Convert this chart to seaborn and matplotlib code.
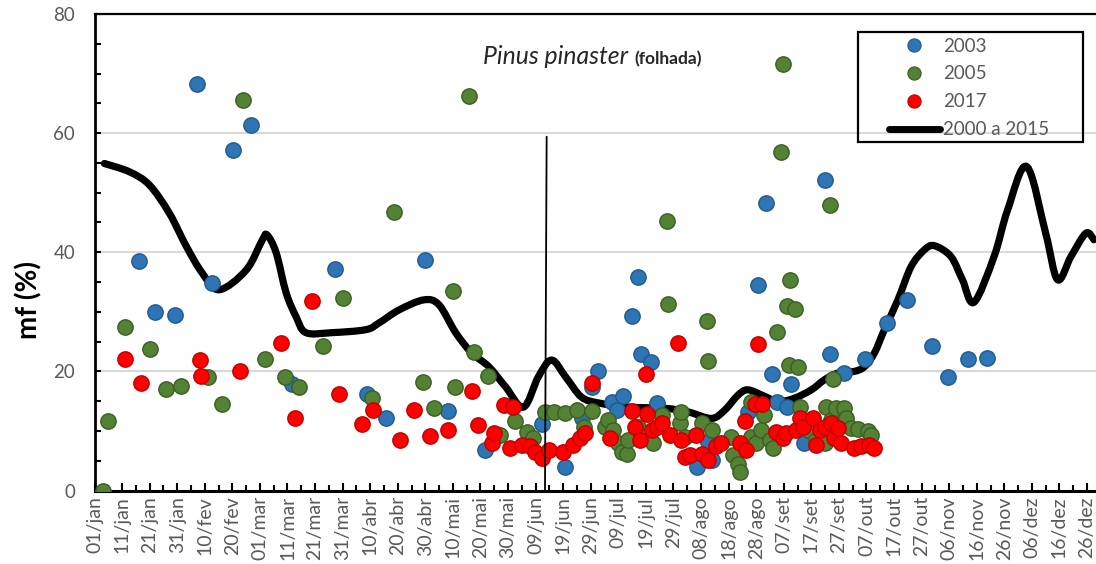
import numpy as np
import pandas as pd
import matplotlib
matplotlib.use("Agg")
import matplotlib.pyplot as plt
import seaborn as sns
from matplotlib.path import Path
from matplotlib.patches import PathPatch, Rectangle
from matplotlib.lines import Line2D
from matplotlib.ticker import FixedLocator, MultipleLocator
from matplotlib.transforms import offset_copy

# ---------------- data (day of year, mf %) ----------------
dia_2003 = [17.0, 23.1, 30.2, 38.0, 43.8, 51.3, 57.9, 72.8, 88.1, 99.9, 106.9, 120.8,
            129.1, 142.8, 163.3, 171.7, 177.7, 181.4, 183.8, 188.6, 190.4, 192.8, 196.1,
            198.0, 199.4, 203.0, 204.9, 219.5, 223.6, 224.8, 238.0, 241.7, 244.7, 246.6,
            248.6, 252.0, 253.6, 258.5, 265.8, 267.8, 273.0, 280.3, 288.6, 295.6, 304.6,
            310.7, 317.7, 324.7]
mf_2003 = [38.5, 30.0, 29.5, 68.3, 34.8, 57.1, 61.4, 17.8, 37.2, 16.2, 12.1, 38.7,
           13.4, 6.8, 11.1, 4.0, 12.1, 17.4, 20.0, 14.9, 13.5, 15.8, 29.3,
           35.9, 22.9, 21.6, 14.7, 4.0, 8.2, 5.1, 13.2, 34.5, 48.3, 19.5,
           14.8, 14.1, 17.9, 8.0, 52.2, 22.9, 19.7, 22.0, 28.1, 32.0, 24.2,
           19.1, 22.1, 22.3]

dia_2005 = [4.0, 5.8, 12.2, 21.3, 26.9, 32.4, 42.3, 47.1, 55.0, 62.8, 70.1, 75.2,
            84.0, 91.2, 101.6, 109.8, 120.0, 124.0, 131.0, 131.8, 136.7, 138.7, 143.6,
            148.2, 153.6, 157.8, 160.0, 164.5, 167.5, 171.7, 175.9, 178.7, 181.5, 186.2,
            187.4, 189.2, 191.0, 192.2, 194.0, 194.6, 198.2, 199.4, 203.7, 206.7, 208.5,
            209.1, 213.3, 213.9, 215.1, 221.2, 223.0, 223.6, 224.8, 232.0, 232.6, 234.4,
            235.3, 239.2, 239.2, 241.0, 242.6, 244.0, 245.9, 247.1, 248.6, 249.9, 250.7,
            252.0, 252.8, 253.4, 255.2, 256.0, 256.8, 259.8, 262.8, 265.8, 266.4, 267.8,
            268.2, 268.7, 270.0, 273.0, 273.6, 275.4, 277.9, 281.5, 282.7]
mf_2005 = [0.0, 11.7, 27.5, 23.7, 17.1, 17.5, 19.0, 14.5, 65.6, 22.1, 19.0, 17.3,
           24.2, 32.3, 15.5, 46.7, 18.2, 13.9, 33.5, 17.3, 66.2, 23.3, 19.2,
           9.3, 11.7, 9.8, 8.8, 13.2, 13.2, 13.0, 13.5, 10.7, 13.4, 10.7,
           11.8, 10.2, 7.9, 6.5, 6.2, 8.5, 10.7, 9.0, 7.9, 12.7, 45.3,
           31.3, 11.3, 13.2, 9.0, 11.3, 28.4, 21.7, 10.2, 9.0, 6.0, 4.5,
           3.1, 14.9, 9.0, 7.9, 10.2, 12.6, 8.5, 7.2, 26.6, 56.9, 71.6,
           30.9, 21.1, 35.3, 30.5, 20.7, 14.1, 10.2, 8.5, 7.9, 14.0, 48.0,
           11.8, 18.8, 13.8, 13.8, 12.1, 10.5, 10.3, 10.0, 9.3]

dia_2017 = [12.2, 17.9, 39.4, 39.8, 53.8, 68.8, 73.7, 80.0, 89.7, 98.0, 102.0, 111.7,
            116.8, 122.8, 129.1, 137.9, 140.0, 145.0, 145.8, 149.4, 151.8, 152.7, 156.0,
            159.0, 160.8, 163.2, 165.7, 171.1, 174.7, 177.1, 178.9, 181.6, 187.8, 195.8,
            197.0, 198.8, 200.9, 201.3, 203.1, 204.9, 206.7, 209.7, 212.7, 213.9, 215.1,
            216.9, 219.3, 221.2, 223.6, 226.3, 228.4, 235.0, 236.8, 237.4, 240.4, 241.7,
            243.2, 248.3, 250.7, 251.9, 255.5, 256.8, 258.0, 261.6, 262.8, 264.0, 265.8,
            268.2, 269.4, 270.6, 271.8, 276.6, 279.0, 282.1, 283.9]
mf_2017 = [22.0, 18.0, 21.9, 19.3, 20.0, 24.8, 12.1, 31.8, 16.2, 11.1, 13.5, 8.5,
           13.5, 9.2, 10.1, 16.7, 11.0, 8.0, 9.7, 14.4, 7.2, 14.1, 7.6,
           7.4, 6.5, 5.4, 6.8, 6.5, 7.6, 8.8, 9.6, 18.1, 8.8, 13.4,
           10.7, 8.5, 19.5, 12.8, 10.2, 10.7, 11.3, 9.3, 24.8, 8.5, 5.7,
           6.0, 9.3, 6.2, 5.2, 7.5, 7.9, 7.9, 11.7, 6.8, 14.5, 24.6,
           14.5, 9.9, 8.8, 9.6, 10.2, 12.1, 10.7, 12.1, 7.6, 10.2, 10.7,
           11.3, 8.8, 10.5, 7.9, 7.1, 7.4, 7.6, 7.1]

# 2000 a 2015 reference curve (smoothed line through these points)
dia_ref = [4.6, 13.7, 20.9, 28.1, 34.3, 40.1, 46.2, 56.0, 61.8, 63.6, 66.9, 70.5,
           74.1, 77.7, 87.1, 99.4, 104.1, 111.4, 120.4, 125.9, 132.0, 137.8, 144.0,
           150.1, 156.6, 162.0, 166.8, 172.0, 177.6, 183.8, 195.0, 207.9, 216.3, 224.8,
           229.6, 234.4, 238.0, 244.1, 248.9, 254.9, 261.0, 265.8, 270.6, 276.6, 280.3,
           283.9, 287.5, 292.4, 297.2, 302.0, 305.6, 311.6, 315.8, 320.0, 327.3, 332.2,
           339.1, 346.0, 350.3, 355.2, 360.6, 363.5]
mf_ref = [54.9, 53.5, 51.3, 46.6, 41.0, 36.5, 33.7, 37.0, 42.0, 42.9, 39.9, 33.2,
          29.2, 26.5, 26.5, 27.0, 28.1, 30.3, 32.0, 31.2, 26.5, 23.1, 20.8,
          17.4, 14.0, 19.1, 21.9, 19.0, 15.7, 14.7, 14.0, 13.8, 13.2, 12.1,
          13.5, 16.0, 16.9, 15.8, 14.9, 15.5, 16.9, 18.6, 19.7, 20.0, 20.8,
          23.1, 27.0, 32.0, 37.6, 40.4, 41.1, 39.3, 35.4, 31.6, 39.3, 47.1,
          54.4, 43.2, 35.4, 39.3, 43.2, 42.1]

# marker line between the two halves of the season
marco_dia = (165.0, 164.4)
marco_mf = (59.4, 0.0)

meses = ["jan", "fev", "mar", "abr", "mai", "jun", "jul", "ago", "set", "out", "nov", "dez"]
datas = pd.date_range("2000-01-01", "2000-12-31", freq="10D")
tick_dias = [d.dayofyear for d in datas]
tick_labels = [f"{d.day:02d}/{meses[d.month - 1]}" for d in datas]

series = [
    ("2003", dia_2003, mf_2003, "#2E75B6", "#22598C"),
    ("2005", dia_2005, mf_2005, "#548235", "#3B5E24"),
    ("2017", dia_2017, mf_2017, "#FF0000", "#C00000"),
]

# ---------------- figure ----------------
sns.set_theme(style="white")
plt.rcParams["font.family"] = ["Lato", "DejaVu Sans"]

W, H = 1096, 564
fig = plt.figure(figsize=(W / 100, H / 100), dpi=100)
ax_left, ax_right = 94.5, 94.5 + 365 * 2.757
ax_top, ax_bottom = 14, 490.5
ax = fig.add_axes([ax_left / W, 1 - ax_bottom / H,
                   (ax_right - ax_left) / W, (ax_bottom - ax_top) / H])

ax.set_xlim(1, 366)
ax.set_ylim(0, 80)

# horizontal gridlines
for g in (20, 40, 60):
    ax.axhline(g, color="#D9D9D9", lw=1.5, zorder=0)

# smoothed reference curve (Catmull-Rom -> cubic Bezier)
pts = np.column_stack([dia_ref, mf_ref])
verts = [pts[0]]
codes = [Path.MOVETO]
n = len(pts)
for i in range(n - 1):
    p0 = pts[i - 1] if i > 0 else pts[i]
    p1 = pts[i]
    p2 = pts[i + 1]
    p3 = pts[i + 2] if i + 2 < n else pts[i + 1]
    c1 = p1 + (p2 - p0) / 6.0
    c2 = p2 - (p3 - p1) / 6.0
    verts += [c1, c2, p2]
    codes += [Path.CURVE4] * 3
ax.add_patch(PathPatch(Path(verts, codes), fill=False, ec="black", lw=5.2,
                       capstyle="round", joinstyle="round", zorder=2))

# scatter series
for nome, dias, vals, cor, borda in series:
    df = pd.DataFrame({"dia": dias, "mf": vals})
    sns.scatterplot(data=df, x="dia", y="mf", ax=ax, color=cor, edgecolor=borda,
                    linewidth=1.0, s=122, zorder=3, legend=False)

# vertical marker line
ax.plot(marco_dia, marco_mf, color="black", lw=1.3, zorder=4)

# axes styling
ax.set_xlabel("")
ax.set_ylabel("mf (%)", fontsize=20, fontweight="bold", color="black")
ax.yaxis.set_label_coords((42 - ax_left) / (ax_right - ax_left), 0.40)

ax.xaxis.set_major_locator(FixedLocator(tick_dias))
ax.xaxis.set_minor_locator(FixedLocator([d + 5 for d in tick_dias]))
ax.set_xticklabels(tick_labels, rotation=90)
ax.yaxis.set_major_locator(MultipleLocator(20))
ax.yaxis.set_minor_locator(MultipleLocator(5))

ax.tick_params(axis="x", which="major", direction="in", length=6, width=1.5,
               colors="black", labelcolor="#595959", labelsize=14, pad=4, bottom=True)
ax.tick_params(axis="x", which="minor", direction="in", length=4, width=1.5,
               colors="black", bottom=True)
ax.tick_params(axis="y", which="major", direction="in", length=4, width=1.5,
               colors="black", labelcolor="#595959", labelsize=13.5, pad=14, left=True)
ax.tick_params(axis="y", which="minor", direction="in", length=4, width=1.5,
               colors="black", left=True)

for side in ("left", "bottom", "top", "right"):
    ax.spines[side].set_color("black")
ax.spines["left"].set_linewidth(2.0)
ax.spines["bottom"].set_linewidth(2.2)
ax.spines["top"].set_linewidth(1.6)
ax.spines["right"].set_visible(False)

# title inside the plot: italic species name followed by a bold note on the same baseline
t1 = ax.text(141.9, 71.6, "Pinus pinaster", fontsize=17.8, fontstyle="italic",
             color="#262626", ha="left", va="baseline")
fig.canvas.draw()
bb = t1.get_window_extent(renderer=fig.canvas.get_renderer())
x0_disp = ax.transData.transform((141.9, 71.6))[0]
ax.text(141.9, 71.6, "(folhada)", fontsize=12.5, fontweight="bold", color="#262626",
        ha="left", va="baseline",
        transform=offset_copy(ax.transData, fig=fig, x=bb.x1 - x0_disp + 6, units="dots"))

# legend
handles = [Line2D([], [], ls="", marker="o", markersize=9.5, markerfacecolor=c,
                  markeredgecolor=b, markeredgewidth=0.8) for _, _, _, c, b in series]
handles.append(Line2D([], [], color="black", lw=5, solid_capstyle="round"))
labels = [s[0] for s in series] + ["2000 a 2015"]
leg = ax.legend(handles, labels, loc="upper left",
                bbox_to_anchor=(889 / W, 1 - 37.5 / H), bbox_transform=fig.transFigure,
                frameon=False, fontsize=13.5, handlelength=2.7, handletextpad=0.2,
                labelspacing=0.58, borderpad=0, borderaxespad=0)
for txt in leg.get_texts():
    txt.set_color("#595959")
fig.add_artist(Rectangle((858 / W, 1 - 142 / H), 225 / W, 110 / H,
                         transform=fig.transFigure, fill=False, ec="black", lw=1.6))

fig.savefig("out.png", dpi=100)
